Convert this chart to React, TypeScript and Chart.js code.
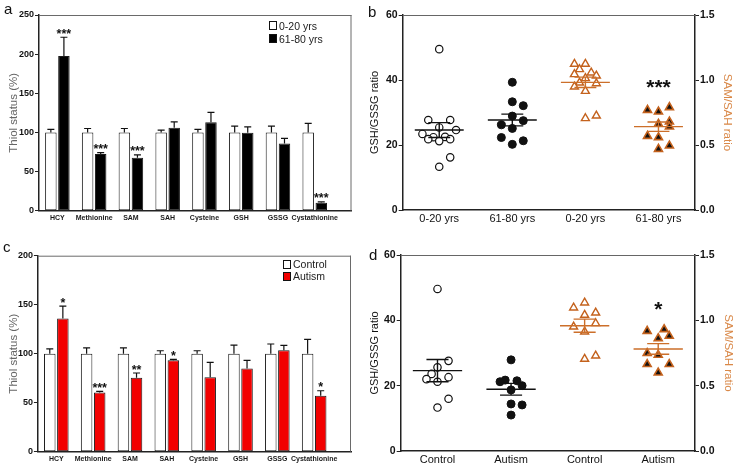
import React, { useEffect, useRef } from 'react';
import { Chart, registerables } from 'chart.js';

Chart.register(...registerables);

const FONT = "'Liberation Sans', Arial, Helvetica, sans-serif";

// ---------- panel a : thiol status, aging ----------
const thiolCategories = ['HCY', 'Methionine', 'SAM', 'SAH', 'Cysteine', 'GSH', 'GSSG', 'Cystathionine'];
const youngThiol = [100, 100, 100, 100, 100, 100, 100, 100];
const youngThiolSem = [4, 5, 5, 3, 4, 8, 8, 11.5];
const oldThiol = [197.6, 72.3, 67.7, 106, 113, 99.6, 86, 10.2];
const oldThiolSem = [24, 2, 3.5, 7.5, 12.5, 7.5, 6.3, 1];
const oldThiolStars = ['***', '***', '***', '', '', '', '', '***'];
const thiolTicksA = [0, 50, 100, 150, 200, 250];

// ---------- panel c : thiol status, autism ----------
const controlThiol = [100, 100, 100, 100, 100, 100, 100, 100];
const controlThiolSem = [5, 6, 6, 3, 3, 8.8, 9.9, 14.6];
const autismThiol = [136, 60.5, 75.5, 93.2, 75.9, 85, 103.4, 57.1];
const autismThiolSem = [12.6, 1, 4.8, 1, 15.3, 8.2, 5.1, 5.1];
const autismThiolStars = ['*', '***', '**', '*', '', '', '', '*'];
const thiolTicksC = [0, 50, 100, 150, 200];

// ---------- panel b : ratios, aging ----------
const agingGroups = ['0-20 yrs', '61-80 yrs', '0-20 yrs', '61-80 yrs'];
const youngGshGssg = [49.5, 27.7, 27.7, 25.4, 24.6, 23.4, 22.4, 22.5, 21.8, 21.8, 21.2, 16.2, 13.3];
const youngGshGssgJitter = [0, -0.15, 0.15, 0, 0.23, -0.23, -0.08, 0.08, -0.15, 0.15, 0, 0.15, 0];
const oldGshGssg = [39.3, 33.3, 32.1, 28.9, 27.5, 26.2, 25.1, 22.3, 21.3, 20.2];
const oldGshGssgJitter = [0, 0, 0.15, 0, 0.15, -0.15, 0, -0.15, 0.15, 0];
const youngSamSah = [1.123, 1.123, 1.082, 1.056, 1.044, 1.033, 1.013, 0.979, 0.974, 0.949, 0.915, 0.725, 0.705];
const youngSamSahJitter = [-0.15, 0, -0.08, 0.08, -0.15, 0.15, 0, -0.08, 0.15, -0.15, 0, 0.15, 0];
const oldSamSah = [0.79, 0.769, 0.756, 0.679, 0.662, 0.641, 0.569, 0.559, 0.495, 0.469];
const oldSamSahJitter = [0.15, -0.15, 0, 0.15, 0, 0.15, -0.15, 0, 0.15, 0];
const agingMeans = [24.6, 27.7, 0.982, 0.641];
const agingSems = [2.3, 1.8, 0.04, 0.036];
const agingStars = ['', '', '', '***'];
const agingStarLevel = 0.985;

// ---------- panel d : ratios, autism ----------
const autismGroups = ['Control', 'Autism', 'Control', 'Autism'];
const controlGshGssg = [49.6, 27.6, 25.6, 23.6, 22.6, 22.0, 21.2, 16.0, 13.3];
const controlGshGssgJitter = [0, 0.15, 0, -0.08, 0.15, -0.15, 0, 0.15, 0];
const autismGshGssg = [27.9, 21.7, 21.5, 21.2, 20.0, 18.7, 14.4, 14.1, 11.0];
const autismGshGssgJitter = [0, -0.08, 0.08, -0.15, 0.15, 0, 0, 0.15, 0];
const controlSamSah = [1.135, 1.097, 1.058, 1.041, 0.977, 0.951, 0.913, 0.729, 0.704];
const controlSamSahJitter = [0, -0.15, 0.15, 0, 0.15, -0.15, 0, 0.15, 0];
const autismSamSah = [0.931, 0.918, 0.88, 0.862, 0.748, 0.735, 0.664, 0.664, 0.599];
const autismSamSahJitter = [0.08, -0.15, 0.15, 0, -0.15, 0, -0.15, 0.15, 0];
const autismMeans = [24.6, 18.9, 0.959, 0.781];
const autismSems = [3.4, 1.8, 0.05, 0.041];
const autismStars = ['', '', '', '*'];
const autismStarLevel = 1.125;

const ratioLeftTicks = [0, 20, 40, 60];
const ratioRightTicks = [0, 0.5, 1.0, 1.5];

const ORANGE = '#c4621d';
const ORANGE_LINE = '#cc6f2a';
const ORANGE_TEXT = '#d98848';

// ---------- plugins ----------
const framePlugin = {
  id: 'frame',
  beforeDatasetsDraw(chart: any, _args: any, opts: any) {
    const { ctx, chartArea: a } = chart;
    ctx.save();
    ctx.strokeStyle = opts.color || '#666';
    ctx.lineWidth = 1;
    ctx.beginPath();
    ctx.moveTo(a.left, a.top + 0.5);
    ctx.lineTo(a.right, a.top + 0.5);
    if (opts.right) {
      ctx.moveTo(a.right - 0.5, a.top);
      ctx.lineTo(a.right - 0.5, a.bottom);
    }
    ctx.stroke();
    ctx.restore();
  },
};

const barErrorPlugin = {
  id: 'barErrors',
  afterDatasetsDraw(chart: any) {
    const { ctx } = chart;
    const y = chart.scales.y;
    chart.data.datasets.forEach((ds: any, di: number) => {
      const meta = chart.getDatasetMeta(di);
      meta.data.forEach((bar: any, i: number) => {
        const v = ds.data[i].y;
        const e = ds.sem[i];
        const yTop = y.getPixelForValue(v + e);
        ctx.save();
        ctx.strokeStyle = '#111';
        ctx.lineWidth = 1.2;
        ctx.beginPath();
        ctx.moveTo(bar.x, bar.y);
        ctx.lineTo(bar.x, yTop);
        ctx.moveTo(bar.x - 3.5, yTop);
        ctx.lineTo(bar.x + 3.5, yTop);
        ctx.stroke();
        const s = ds.stars && ds.stars[i];
        if (s) {
          ctx.fillStyle = '#111';
          ctx.font = `bold 12.5px ${FONT}`;
          ctx.textAlign = 'center';
          ctx.textBaseline = 'alphabetic';
          ctx.fillText(s, bar.x, yTop + 0.5);
        }
        ctx.restore();
      });
    });
  },
};

const summaryPlugin = {
  id: 'summary',
  afterDatasetsDraw(chart: any) {
    const { ctx } = chart;
    const x = chart.scales.x;
    chart.data.datasets.forEach((ds: any) => {
      const y = chart.scales[ds.yAxisID];
      const g = ds.groupIndex;
      const ym = y.getPixelForValue(ds.meanValue);
      const yHi = y.getPixelForValue(ds.meanValue + ds.semValue);
      const yLo = y.getPixelForValue(ds.meanValue - ds.semValue);
      ctx.save();
      ctx.strokeStyle = ds.summaryColor;
      ctx.lineWidth = 1.4;
      ctx.beginPath();
      ctx.moveTo(x.getPixelForValue(g - 0.335), ym);
      ctx.lineTo(x.getPixelForValue(g + 0.335), ym);
      ctx.moveTo(x.getPixelForValue(g), yHi);
      ctx.lineTo(x.getPixelForValue(g), yLo);
      ctx.moveTo(x.getPixelForValue(g - 0.15), yHi);
      ctx.lineTo(x.getPixelForValue(g + 0.15), yHi);
      ctx.moveTo(x.getPixelForValue(g - 0.15), yLo);
      ctx.lineTo(x.getPixelForValue(g + 0.15), yLo);
      ctx.stroke();
      if (ds.starText) {
        ctx.fillStyle = '#111';
        ctx.font = `bold 21px ${FONT}`;
        ctx.textAlign = 'center';
        ctx.textBaseline = 'alphabetic';
        ctx.fillText(ds.starText, x.getPixelForValue(g), y.getPixelForValue(ds.starLevel) + 12);
      }
      ctx.restore();
    });
  },
};

// ---------- config builders ----------
type Area = { left: number; top: number; right: number; bottom: number };

function barConfig(p: any) {
  const { area, width, height, yMax, ticks, ctrl, ctrlSem, cas, casSem, casStars, casColor } = p;
  const common = { borderColor: '#1a1a1a', borderWidth: 1, borderSkipped: false, categoryPercentage: 0.71, barPercentage: 0.88 };
  return {
    type: 'bar',
    data: {
      datasets: [
        { ...common, data: ctrl.map((v: number, i: number) => ({ x: i, y: v })), backgroundColor: '#ffffff', sem: ctrlSem, stars: [] },
        { ...common, data: cas.map((v: number, i: number) => ({ x: i, y: v })), backgroundColor: casColor, sem: casSem, stars: casStars },
      ],
    },
    options: {
      animation: false,
      responsive: false,
      maintainAspectRatio: false,
      devicePixelRatio: 1,
      layout: { padding: { left: 0, top: area.top, right: width - area.right, bottom: 0 } },
      plugins: { legend: { display: false }, tooltip: { enabled: false }, frame: { right: true, color: '#6a6a6a' } },
      scales: {
        x: {
          type: 'linear',
          min: -0.5,
          max: 8,
          offset: false,
          grid: { display: false, drawTicks: false },
          border: { display: true, color: '#222', width: 1.5 },
          afterBuildTicks: (s: any) => { s.ticks = thiolCategories.map((_, i) => ({ value: i })); },
          afterFit: (s: any) => { s.height = height - area.bottom; },
          ticks: {
            autoSkip: false,
            maxRotation: 0,
            minRotation: 0,
            padding: 3,
            color: '#1a1a1a',
            font: { family: FONT, size: 7, weight: 'bold' },
            callback: (v: number) => thiolCategories[v] ?? '',
          },
        },
        y: {
          min: 0,
          max: yMax,
          afterBuildTicks: (s: any) => { s.ticks = ticks.map((t: number) => ({ value: t })); },
          afterFit: (s: any) => { s.width = area.left; },
          ticks: { padding: 1, color: '#111', font: { family: FONT, size: 9, weight: 'bold' } },
          grid: { drawOnChartArea: false, tickLength: 4, color: '#222', lineWidth: 1 },
          border: { color: '#222', width: 1.5 },
          title: { display: true, text: 'Thiol status (%)', color: '#666', font: { family: FONT, size: 11.5 }, padding: { top: 7, bottom: 0 } },
        },
      },
    },
    plugins: [framePlugin, barErrorPlugin],
  };
}

function ratioConfig(p: any) {
  const { area, width, height, groups, sets, means, sems, stars, starLevel, leftPad, rightPad } = p;
  const styles = [
    { pointStyle: 'circle', pointRadius: 3.7, backgroundColor: '#ffffff', borderColor: '#111', borderWidth: 1.2, yAxisID: 'y', summaryColor: '#111' },
    { pointStyle: 'circle', pointRadius: 4, backgroundColor: '#111', borderColor: '#111', borderWidth: 1, yAxisID: 'y', summaryColor: '#111' },
    { pointStyle: 'triangle', pointRadius: 4.6, backgroundColor: '#ffffff', borderColor: ORANGE, borderWidth: 1.4, yAxisID: 'y1', summaryColor: ORANGE_LINE },
    { pointStyle: 'triangle', pointRadius: 4.6, backgroundColor: '#111', borderColor: ORANGE, borderWidth: 1.6, yAxisID: 'y1', summaryColor: ORANGE_LINE },
  ];
  const datasets = sets.map((s: any, g: number) => ({
    ...styles[g],
    data: s.values.map((v: number, i: number) => ({ x: g + s.jitter[i], y: v })),
    groupIndex: g,
    meanValue: means[g],
    semValue: sems[g],
    starText: stars[g],
    starLevel,
  }));
  return {
    type: 'scatter',
    data: { datasets },
    options: {
      animation: false,
      responsive: false,
      maintainAspectRatio: false,
      devicePixelRatio: 1,
      layout: { padding: { left: 0, top: area.top, right: 0, bottom: 0 } },
      plugins: { legend: { display: false }, tooltip: { enabled: false }, frame: { right: false, color: '#666' } },
      scales: {
        x: {
          type: 'linear',
          min: -0.5,
          max: 3.5,
          grid: { display: false, drawTicks: false },
          border: { display: true, color: '#222', width: 1.5 },
          afterBuildTicks: (s: any) => { s.ticks = groups.map((_: string, i: number) => ({ value: i })); },
          afterFit: (s: any) => { s.height = height - area.bottom; },
          ticks: { autoSkip: false, maxRotation: 0, padding: 2, color: '#111', font: { family: FONT, size: 11 }, callback: (v: number) => groups[v] ?? '' },
        },
        y: {
          position: 'left',
          min: 0,
          max: 60,
          afterBuildTicks: (s: any) => { s.ticks = ratioLeftTicks.map((t) => ({ value: t })); },
          afterFit: (s: any) => { s.width = area.left; },
          ticks: { padding: 1, color: '#111', font: { family: FONT, size: 10.5, weight: 'bold' } },
          grid: { drawOnChartArea: false, tickLength: 4, color: '#222' },
          border: { color: '#222', width: 1.5 },
          title: { display: true, text: 'GSH/GSSG ratio', color: '#111', font: { family: FONT, size: 11 }, padding: { top: leftPad, bottom: 0 } },
        },
        y1: {
          position: 'right',
          min: 0,
          max: 1.5,
          afterBuildTicks: (s: any) => { s.ticks = ratioRightTicks.map((t) => ({ value: t })); },
          afterFit: (s: any) => { s.width = width - area.right; },
          ticks: { padding: 1, color: '#111', font: { family: FONT, size: 10.5, weight: 'bold' }, callback: (v: number) => v.toFixed(1) },
          grid: { drawOnChartArea: false, tickLength: 4, color: '#222' },
          border: { color: '#222', width: 1.5 },
          title: { display: true, text: 'SAM/SAH ratio', color: ORANGE_TEXT, font: { family: FONT, size: 11.5 }, padding: { top: rightPad, bottom: 0 } },
        },
      },
    },
    plugins: [framePlugin, summaryPlugin],
  };
}

// ---------- components ----------
type Box = { left: number; top: number; width: number; height: number };

function ChartBox({ box, make }: { box: Box; make: () => any }) {
  const ref = useRef<HTMLCanvasElement>(null);
  useEffect(() => {
    const chart = new Chart(ref.current as HTMLCanvasElement, make());
    return () => chart.destroy();
  }, []);
  return (
    <canvas
      ref={ref}
      width={box.width}
      height={box.height}
      style={{ position: 'absolute', left: box.left, top: box.top, width: box.width, height: box.height }}
    />
  );
}

function LegendItem({ left, top, fill, label }: { left: number; top: number; fill: string; label: string }) {
  return (
    <>
      <div style={{ position: 'absolute', left, top: top + 1.5, width: 8, height: 9, boxSizing: 'border-box', border: '1px solid #111', background: fill }} />
      <div style={{ position: 'absolute', left: left + 10, top, fontSize: 10.5, lineHeight: '12px', color: '#222', whiteSpace: 'nowrap' }}>{label}</div>
    </>
  );
}

function PanelLetter({ left, top, text }: { left: number; top: number; text: string }) {
  return <div style={{ position: 'absolute', left, top, fontSize: 15, lineHeight: '15px', color: '#111' }}>{text}</div>;
}

const boxA: Box = { left: 0, top: 0, width: 370, height: 235 };
const boxB: Box = { left: 364, top: 0, width: 376, height: 235 };
const boxC: Box = { left: 0, top: 235, width: 370, height: 236 };
const boxD: Box = { left: 364, top: 235, width: 376, height: 236 };

const makeA = () => barConfig({
  area: { left: 39, top: 15, right: 351.5, bottom: 210.7 } as Area,
  width: boxA.width, height: boxA.height, yMax: 250, ticks: thiolTicksA,
  ctrl: youngThiol, ctrlSem: youngThiolSem, cas: oldThiol, casSem: oldThiolSem, casStars: oldThiolStars, casColor: '#000000',
});

const makeC = () => barConfig({
  area: { left: 37.9, top: 20.7, right: 351, bottom: 216.7 } as Area,
  width: boxC.width, height: boxC.height, yMax: 200, ticks: thiolTicksC,
  ctrl: controlThiol, ctrlSem: controlThiolSem, cas: autismThiol, casSem: autismThiolSem, casStars: autismThiolStars, casColor: '#f20000',
});

const makeB = () => ratioConfig({
  area: { left: 38.7, top: 15, right: 331, bottom: 210 } as Area,
  width: boxB.width, height: boxB.height, groups: agingGroups,
  sets: [
    { values: youngGshGssg, jitter: youngGshGssgJitter },
    { values: oldGshGssg, jitter: oldGshGssgJitter },
    { values: youngSamSah, jitter: youngSamSahJitter },
    { values: oldSamSah, jitter: oldSamSahJitter },
  ],
  means: agingMeans, sems: agingSems, stars: agingStars, starLevel: agingStarLevel,
  leftPad: 4.4, rightPad: 5.6,
});

const makeD = () => ratioConfig({
  area: { left: 36.7, top: 20, right: 331, bottom: 216 } as Area,
  width: boxD.width, height: boxD.height, groups: autismGroups,
  sets: [
    { values: controlGshGssg, jitter: controlGshGssgJitter },
    { values: autismGshGssg, jitter: autismGshGssgJitter },
    { values: controlSamSah, jitter: controlSamSahJitter },
    { values: autismSamSah, jitter: autismSamSahJitter },
  ],
  means: autismMeans, sems: autismSems, stars: autismStars, starLevel: autismStarLevel,
  leftPad: 4.4, rightPad: 5.1,
});

export default function App() {
  return (
    <div style={{ position: 'fixed', left: 0, top: 0, width: 740, height: 471, background: '#ffffff', fontFamily: FONT, overflow: 'hidden' }}>
      <ChartBox box={boxA} make={makeA} />
      <ChartBox box={boxB} make={makeB} />
      <ChartBox box={boxC} make={makeC} />
      <ChartBox box={boxD} make={makeD} />
      <LegendItem left={269} top={19.5} fill="#ffffff" label="0-20 yrs" />
      <LegendItem left={269} top={32.5} fill="#000000" label="61-80 yrs" />
      <LegendItem left={283} top={258} fill="#ffffff" label="Control" />
      <LegendItem left={283} top={270} fill="#f20000" label="Autism" />
      <PanelLetter left={4} top={1} text="a" />
      <PanelLetter left={368} top={4} text="b" />
      <PanelLetter left={3} top={239} text="c" />
      <PanelLetter left={369} top={247} text="d" />
    </div>
  );
}
